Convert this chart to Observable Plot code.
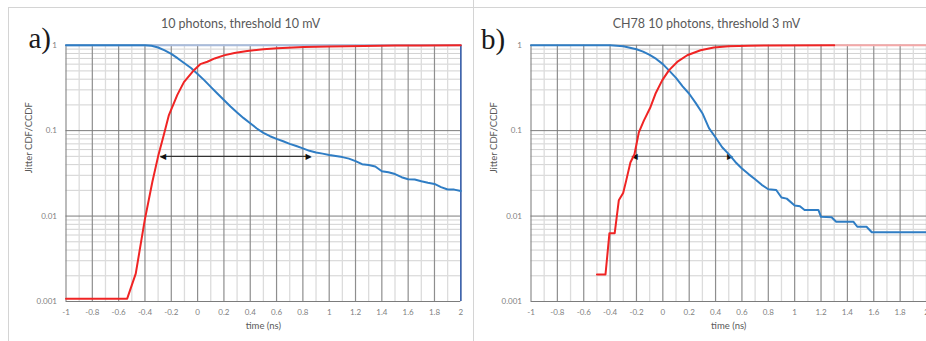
<!DOCTYPE html>
<html><head><meta charset="utf-8">
<script src="https://cdn.jsdelivr.net/npm/d3@7"></script>
<script src="https://cdn.jsdelivr.net/npm/@observablehq/plot@0.6"></script>
<style>
html,body{margin:0;padding:0;background:#fff;overflow:hidden}
#wrap{position:relative;width:926px;height:341px;overflow:hidden;background:#fff}
.pl{position:absolute;top:0;height:341px}
.pl svg{max-width:none !important}
#frame{position:absolute;left:8px;top:7px;width:1000px;height:400px;border:1px solid #d4d4d4;box-sizing:border-box}
#divider{position:absolute;left:473px;top:0;width:1px;height:341px;background:#d4d4d4}
#overlay{position:absolute;left:0;top:0;pointer-events:none}
</style></head><body>
<div id="wrap">
  <div id="frame"></div><div id="divider"></div>
  <div id="pa" class="pl" style="left:0px;width:465px"></div>
  <div id="pb" class="pl" style="left:465px;width:466px"></div>
  <svg id="overlay" width="926" height="341">
    <text id="titleA" x="240.5" y="28.3" text-anchor="middle" font-family="Lato, sans-serif" font-size="12.5" fill="#595959"></text>
    <text id="titleB" x="706.5" y="28.3" text-anchor="middle" font-family="Lato, sans-serif" font-size="12.5" fill="#595959"></text>
    <text id="tagA" x="28.5" y="47.5" font-family="Liberation Serif, serif" font-size="29" fill="#1a1a1a"></text>
    <text id="tagB" x="481" y="48.5" font-family="Liberation Serif, serif" font-size="29" fill="#1a1a1a"></text>
  </svg>
</div>
<script>
// ---- texts ----
const titles = ["10 photons, threshold 10 mV", "CH78 10 photons, threshold 3 mV"];
const panelTags = ["a)", "b)"];
const xLabel = "time (ns)";
const yLabel = "Jitter CDF/CCDF";

// ---- axes ----
const xDomain = [-1, 2];
const yDomain = [0.001, 1];
const xTicks = [-1, -0.8, -0.6, -0.4, -0.2, 0, 0.2, 0.4, 0.6, 0.8, 1, 1.2, 1.4, 1.6, 1.8, 2];
const xTickLabels = ["-1", "-0.8", "-0.6", "-0.4", "-0.2", "0", "0.2", "0.4", "0.6", "0.8", "1", "1.2", "1.4", "1.6", "1.8", "2"];
const xMinor = [-0.9, -0.7, -0.5, -0.3, -0.1, 0.1, 0.3, 0.5, 0.7, 0.9, 1.1, 1.3, 1.5, 1.7, 1.9];
const yTicks = [0.001, 0.01, 0.1, 1];
const yTickLabels = ["0.001", "0.01", "0.1", "1"];
const yMinor = [0.002, 0.003, 0.004, 0.005, 0.006, 0.007, 0.008, 0.009,
                0.02, 0.03, 0.04, 0.05, 0.06, 0.07, 0.08, 0.09,
                0.2, 0.3, 0.4, 0.5, 0.6, 0.7, 0.8, 0.9];

// ---- panel a data: [time ns, probability] ----
const aCDF = [[-1, 0.00108], [-0.535, 0.00108], [-0.47, 0.00212], [-0.402, 0.0089], [-0.344, 0.025],
  [-0.3, 0.05], [-0.256, 0.09], [-0.218, 0.152], [-0.154, 0.262], [-0.104, 0.37], [-0.05, 0.465],
  [-0.028, 0.51], [0.02, 0.6], [0.074, 0.64], [0.13, 0.7], [0.2, 0.76], [0.28, 0.81], [0.377, 0.855],
  [0.5, 0.895], [0.606, 0.92], [0.808, 0.95], [1.0, 0.965], [1.263, 0.98], [1.5, 0.99], [1.7, 0.995], [2, 1]];
const aCCDF = [[-1, 1], [-0.4, 1], [-0.35, 0.985], [-0.3, 0.94], [-0.25, 0.87], [-0.2, 0.79], [-0.15, 0.7],
  [-0.1, 0.615], [-0.05, 0.54], [0, 0.46], [0.05, 0.39], [0.1, 0.325], [0.15, 0.272], [0.2, 0.228],
  [0.25, 0.192], [0.3, 0.163], [0.35, 0.14], [0.4, 0.122], [0.45, 0.106], [0.5, 0.094], [0.55, 0.086],
  [0.6, 0.08], [0.65, 0.075], [0.7, 0.07], [0.75, 0.066], [0.8, 0.062], [0.85, 0.058], [0.9, 0.0555],
  [0.95, 0.0538], [1.0, 0.052], [1.05, 0.0505], [1.1, 0.049], [1.15, 0.047], [1.2, 0.044], [1.25, 0.0405],
  [1.3, 0.0395], [1.35, 0.038], [1.4, 0.0335], [1.45, 0.0325], [1.5, 0.031], [1.55, 0.0285], [1.6, 0.027],
  [1.65, 0.0268], [1.7, 0.0255], [1.75, 0.0245], [1.8, 0.0238], [1.85, 0.0218], [1.9, 0.0205],
  [1.95, 0.0204], [2.0, 0.0196]];
const aArrow = [{x1: -0.28, x2: 0.86, y: 0.05}];

// ---- panel b data ----
const bCDF = [[-0.5, 0.00207], [-0.435, 0.00207], [-0.405, 0.0063], [-0.365, 0.0063], [-0.334, 0.0153],
  [-0.301, 0.0186], [-0.278, 0.026], [-0.246, 0.0424], [-0.215, 0.053], [-0.182, 0.0955], [-0.144, 0.131],
  [-0.094, 0.188], [-0.056, 0.27], [-0.005, 0.387], [0.046, 0.508], [0.109, 0.637], [0.185, 0.762],
  [0.286, 0.873], [0.387, 0.94], [0.5, 0.97], [0.65, 0.985], [0.8, 0.995], [1.3, 1]];
const bCCDF = [[-1, 1], [-0.4, 1], [-0.3, 0.972], [-0.2, 0.895], [-0.15, 0.84], [-0.1, 0.77], [-0.05, 0.69],
  [0, 0.6], [0.05, 0.5], [0.1, 0.415], [0.15, 0.33], [0.2, 0.27], [0.25, 0.21], [0.3, 0.16], [0.35, 0.107],
  [0.4, 0.083], [0.45, 0.064], [0.5, 0.053], [0.55, 0.043], [0.6, 0.036], [0.65, 0.031], [0.7, 0.027],
  [0.75, 0.0232], [0.8, 0.0206], [0.86, 0.0202], [0.9, 0.0165], [0.94, 0.016], [1.0, 0.0133], [1.04, 0.013],
  [1.075, 0.0118], [1.18, 0.0118], [1.2, 0.0098], [1.28, 0.0097], [1.315, 0.0086], [1.445, 0.0086],
  [1.475, 0.0075], [1.545, 0.0075], [1.585, 0.00646], [2, 0.00646]];
const bArrow = [{x1: -0.232, x2: 0.528, y: 0.05}];

const RED = "#f02424", BLUE = "#2f7dc4";
const fmtX = d => xTickLabels[xTicks.indexOf(d)];
const fmtY = d => yTickLabels[yTicks.indexOf(d)];

function panel({cdf, ccdf, arrow, topColor, topFrom, edge, arrowColor, width, marginRight}) {
  return Plot.plot({
    width, height: 341,
    marginLeft: 65.5, marginRight, marginTop: 44.7, marginBottom: 40,
    style: {fontFamily: "Lato, sans-serif", fontSize: "8px", color: "#7f7f7f", background: "transparent", overflow: "visible", maxWidth: "none"},
    x: {domain: xDomain},
    y: {type: "log", domain: yDomain},
    marks: [
      Plot.gridY(yMinor, {stroke: "#d2d2d2", strokeOpacity: 1, strokeWidth: 1}),
      Plot.gridX(xMinor, {stroke: "#dcdcdc", strokeOpacity: 1, strokeWidth: 1.3}),
      Plot.gridX(xTicks, {stroke: "#8e8e8e", strokeOpacity: 1, strokeWidth: 1.2}),
      Plot.gridY(yTicks, {stroke: "#7c7c7c", strokeOpacity: 1, strokeWidth: 1}),
      Plot.axisX({ticks: xTicks, tickSize: 0, tickPadding: 8, tickFormat: fmtX, label: null}),
      Plot.axisY({ticks: yTicks, tickSize: 0, tickPadding: 9, tickFormat: fmtY, label: null}),
      Plot.ruleY([yDomain[1]], {x1: topFrom, x2: xDomain[1], stroke: topColor, strokeWidth: 2}),
      edge ? Plot.ruleX([xDomain[1]], {stroke: "#3f66b0", strokeWidth: 1.6}) : null,
      Plot.ruleY(arrow, {y: "y", x1: "x1", x2: "x2", stroke: arrowColor, strokeWidth: 1.2}),
      Plot.text(arrow, {x: "x1", y: "y", text: () => "\u25C0", textAnchor: "start", fill: "#111", fontSize: 8, fontFamily: "DejaVu Sans", dx: -0.8}),
      Plot.text(arrow, {x: "x2", y: "y", text: () => "\u25B6", textAnchor: "end", fill: "#111", fontSize: 8, fontFamily: "DejaVu Sans", dx: 0.8}),
      Plot.line(ccdf, {x: d => d[0], y: d => d[1], stroke: BLUE, strokeWidth: 2}),
      Plot.line(cdf, {x: d => d[0], y: d => d[1], stroke: RED, strokeWidth: 2}),
      Plot.text([yLabel], {text: d => d, frameAnchor: "left", dx: -37.5, rotate: -90, fontSize: 9.5, fill: "#595959"}),
      Plot.text([xLabel], {text: d => d, frameAnchor: "bottom", dy: 27, fontSize: 9.5, fill: "#595959"})
    ]
  });
}

document.getElementById("pa").append(panel({
  cdf: aCDF, ccdf: aCCDF, arrow: aArrow, topColor: "#a9bcdc", topFrom: xDomain[0], edge: true,
  arrowColor: "#333", width: 465, marginRight: 4.7
}));
document.getElementById("pb").append(panel({
  cdf: bCDF, ccdf: bCCDF, arrow: bArrow, topColor: "#f4a8a8", topFrom: bCDF[bCDF.length - 1][0], edge: false,
  arrowColor: "#8a8a8a", width: 466, marginRight: 5
}));
document.getElementById("titleA").textContent = titles[0];
document.getElementById("titleB").textContent = titles[1];
document.getElementById("tagA").textContent = panelTags[0];
document.getElementById("tagB").textContent = panelTags[1];
</script>
</body></html>
